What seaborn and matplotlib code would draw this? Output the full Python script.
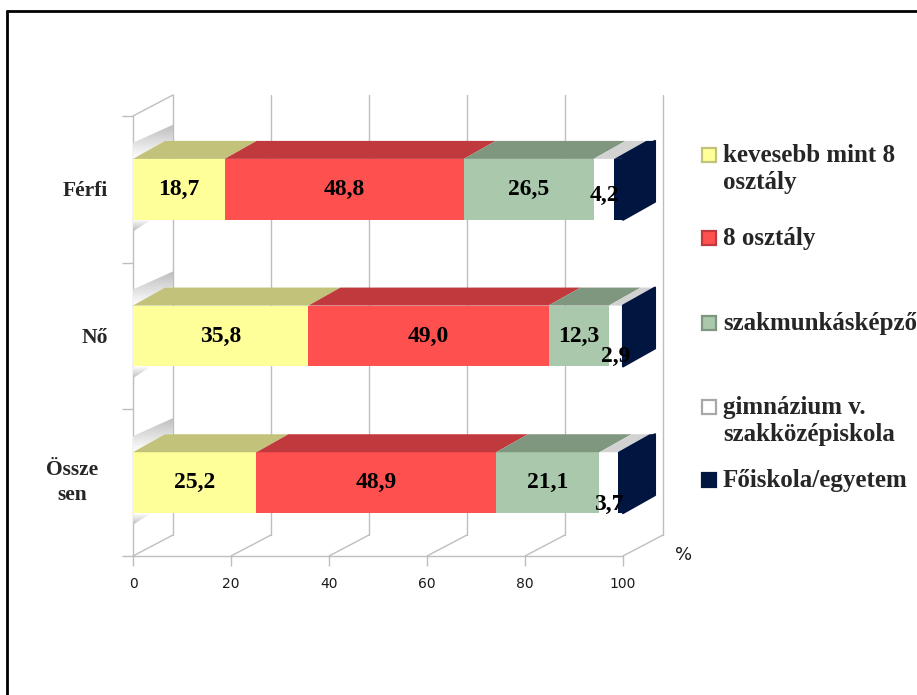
import numpy as np
import pandas as pd
import matplotlib
matplotlib.use("Agg")
import matplotlib.pyplot as plt
import matplotlib.transforms as mtransforms
from matplotlib.patches import Polygon, Rectangle
from matplotlib.lines import Line2D
from matplotlib.colors import LinearSegmentedColormap
import seaborn as sns

# ---------------- data ----------------
categories = ["Férfi", "Nő", "Összesen"]
category_labels = ["Férfi", "Nő", "Össze\nsen"]
series_names = ["kevesebb mint 8\nosztály", "8 osztály", "szakmunkásképző",
                "gimnázium v.\nszakközépiskola", "Főiskola/egyetem"]
kevesebb_mint_8 = [18.7, 35.8, 25.2]
nyolc_osztaly = [48.8, 49.0, 48.9]
szakmunkas = [26.5, 12.3, 21.1]
gimnazium = [4.2, 2.9, 3.7]
foiskola = [1.8, 0.0, 1.1]
x_ticks = [0, 20, 40, 60, 80, 100]

# ---------------- style ----------------
front_colors = ["#FFFF99", "#FF5050", "#A9C8AC", "#FFFFFF", "#001540"]
top_colors = ["#C2C27A", "#C0393C", "#7F977F", "#D2D2D2", "#001540"]
grid_color = "#BEBEBE"
serif = ["Liberation Serif", "DejaVu Serif"]

sns.set_theme(style="white")
plt.rcParams["font.family"] = ["DejaVu Sans"]

W, H = 917, 695
fig = plt.figure(figsize=(W / 100, H / 100), dpi=100)
ax_l, ax_r, ax_t, ax_b = 133, 623, 116, 556
ax = fig.add_axes([ax_l / W, (H - ax_b) / H, (ax_r - ax_l) / W, (ax_b - ax_t) / H])

values = np.array([kevesebb_mint_8, nyolc_osztaly, szakmunkas, gimnazium, foiskola])
cum = np.cumsum(values, axis=0)
BAR_H = 0.415

# stacked front faces via seaborn (largest cumulative first)
for i in reversed(range(len(values))):
    sns.barplot(x=cum[i], y=categories, orient="h", color=front_colors[i],
                width=BAR_H, saturation=1, linewidth=0, edgecolor="none",
                ax=ax, zorder=3)

ax.set_xlabel("")
ax.set_ylabel("")
for s in ax.spines.values():
    s.set_visible(False)
ax.set_facecolor("none")

# pixel -> data unit conversions
px_x = (ax_r - ax_l) / 100.0
px_y = (ax_b - ax_t) / 3.0
FDX, FDY = 40 / px_x, -21 / px_y      # floor / wall depth
BDX, BDY = 32 / px_x, -18 / px_y      # bar depth

# back wall gridlines
for xv in x_ticks:
    ax.add_line(Line2D([xv + FDX, xv + FDX], [2.5 + FDY, -0.5 + FDY], color=grid_color,
                       lw=1.0, zorder=0, clip_on=False))
    ax.add_line(Line2D([xv, xv + FDX], [2.5, 2.5 + FDY], color=grid_color, lw=1.0,
                       zorder=0, clip_on=False))
ax.add_line(Line2D([0, 100], [2.5, 2.5], color=grid_color, lw=1.0, zorder=1, clip_on=False))
ax.add_line(Line2D([0, 0], [-0.5, 2.5], color=grid_color, lw=1.0, zorder=1, clip_on=False))
ax.add_line(Line2D([0, FDX], [-0.5, -0.5 + FDY], color=grid_color, lw=1.0, zorder=1, clip_on=False))

# left wall soft gradient shadows next to bars
shade = LinearSegmentedColormap.from_list("shade", ["#FFFFFF", "#BDBDBD"])
grad = np.linspace(0, 1, 64).reshape(-1, 1)
for j in range(len(categories)):
    top = j - BAR_H / 2
    bot = j + BAR_H / 2
    up = 0.11
    poly = Polygon([(0, top), (BDX, top + BDY), (FDX, top + BDY), (FDX, top + BDY - up),
                    (0, top - up)], closed=True, facecolor="none", edgecolor="none",
                   transform=ax.transData)
    im = ax.imshow(grad, extent=[0, FDX, top, top + BDY - up], origin="lower",
                   cmap=shade, aspect="auto", zorder=1, interpolation="bilinear")
    im.set_clip_path(poly)
    poly2 = Polygon([(0, bot), (0, bot + 0.08), (FDX * 0.45, bot)], closed=True,
                    facecolor="none", edgecolor="none", transform=ax.transData)
    im2 = ax.imshow(grad[::-1], extent=[0, FDX * 0.45, bot + 0.08, bot], origin="lower",
                    cmap=shade, aspect="auto", zorder=1, interpolation="bilinear")
    im2.set_clip_path(poly2)

ax.set_xlim(0, 100)
ax.set_ylim(2.5, -0.5)

# top faces and right side face
for j in range(len(categories)):
    top = j - BAR_H / 2
    bot = j + BAR_H / 2
    for i in range(len(values)):
        x0 = cum[i][j] - values[i][j]
        x1 = cum[i][j]
        if x1 - x0 <= 0:
            continue
        ax.add_patch(Polygon([(x0, top), (x1, top), (x1 + BDX, top + BDY), (x0 + BDX, top + BDY)],
                             closed=True, facecolor=top_colors[i], edgecolor="none",
                             zorder=4, clip_on=False))
    xe = cum[-1][j]
    ax.add_patch(Polygon([(xe, top), (xe + BDX, top + BDY), (xe + BDX, bot + BDY), (xe, bot)],
                         closed=True, facecolor=front_colors[-1], edgecolor=front_colors[-1],
                         lw=1.5, zorder=4, clip_on=False, joinstyle="round"))

# data labels (first four series)
label_dy = {(3, 1): 0.14, (3, 2): 0.15, (3, 0): 0.04}
for i in range(4):
    for j in range(len(categories)):
        v = values[i][j]
        xc = cum[i][j] - v / 2
        ax.text(xc, j + label_dy.get((i, j), 0.0), f"{v:.1f}".replace(".", ","),
                ha="center", va="center", fontsize=17, fontweight="bold",
                family=serif, color="black", zorder=6, clip_on=False)

# x ticks
ax.set_xticks(x_ticks)
ax.set_xticklabels([str(t) for t in x_ticks])
ax.tick_params(axis="x", bottom=True, length=7, width=1, color=grid_color, pad=8,
               labelsize=10, labelcolor="#1A1A1A")
ax.set_yticks([])
ax.set_yticks([-0.5, 0.5, 1.5, 2.5], minor=True)
ax.tick_params(axis="y", which="minor", left=True, length=8, width=1, color=grid_color)
ax.tick_params(axis="y", which="major", left=False, labelleft=False)

ytrans = mtransforms.offset_copy(ax.get_yaxis_transform(), fig=fig, x=-25, y=-2, units="dots")
ytrans2 = mtransforms.offset_copy(ax.get_yaxis_transform(), fig=fig, x=-61, y=0, units="dots")
for j, lab in enumerate(category_labels):
    if "\n" in lab:
        ax.text(0, j, lab, transform=ytrans2, ha="center", va="center", multialignment="center",
                fontsize=15.5, fontweight="bold", family=serif, linespacing=1.35)
    else:
        ax.text(0, j, lab, transform=ytrans, ha="right", va="center",
                fontsize=15.5, fontweight="bold", family=serif)

# "%" unit label
ax.text(1.0, 0, "%", transform=mtransforms.offset_copy(ax.transAxes, fig=fig, x=61, y=1, units="dots"),
        ha="center", va="center", fontsize=13, color="#1A1A1A")

# legend (manual, Excel-like)
leg_x_px = 702
leg_text_px = 723
leg_first_line = [155, 238, 323, 407, 480]
for i, name in enumerate(series_names):
    yc = leg_first_line[i]
    sq = 14
    fig.add_artist(Rectangle(((leg_x_px) / W, (H - yc - sq / 2) / H), sq / W, sq / H,
                             transform=fig.transFigure, facecolor=front_colors[i],
                             edgecolor=top_colors[i] if i != 3 else "#A8A8A8", lw=1.6))
    fig.text(leg_text_px / W, (H - yc + 11) / H, name, ha="left", va="top",
             fontsize=18, fontweight="bold", family=serif, linespacing=1.25)

# outer frame (top and left)
fig.add_artist(Line2D([7 / W, 1.0], [1 - 11 / H, 1 - 11 / H], transform=fig.transFigure,
                      color="black", lw=2))
fig.add_artist(Line2D([7 / W, 7 / W], [0, 1 - 11 / H], transform=fig.transFigure,
                      color="black", lw=2))

fig.savefig("out.png", dpi=100, facecolor="white")
